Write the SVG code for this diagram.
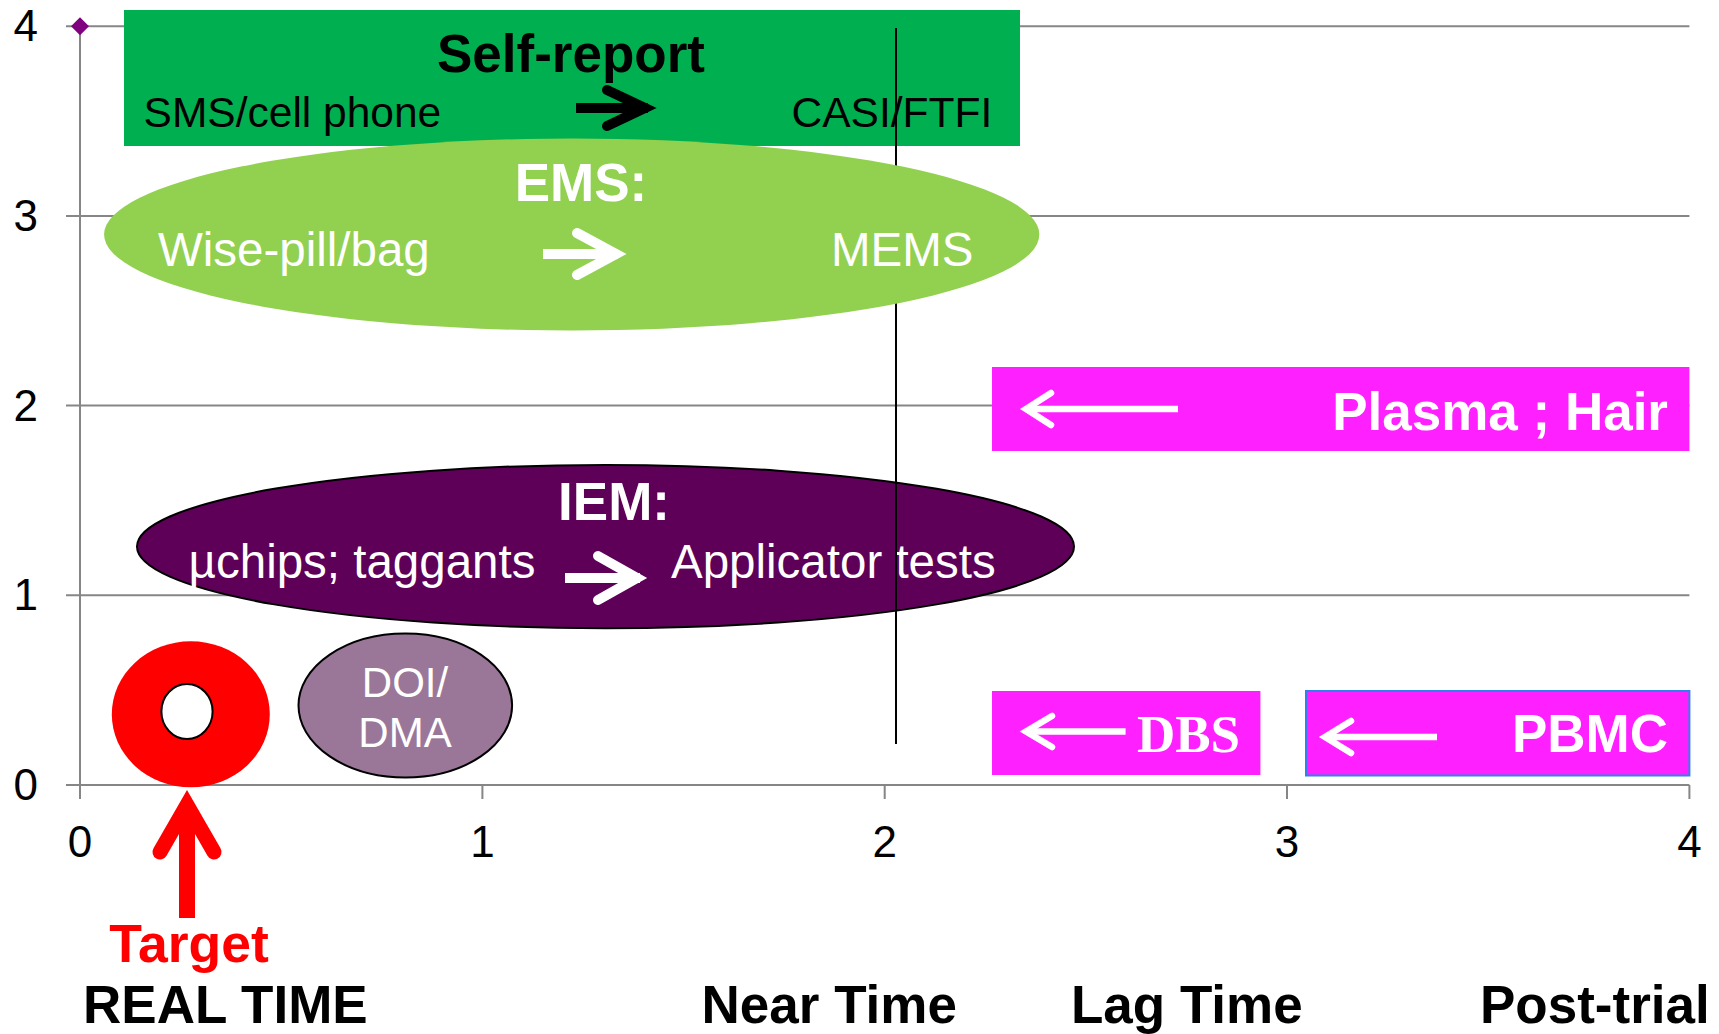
<svg xmlns="http://www.w3.org/2000/svg" width="1719" height="1034" viewBox="0 0 1719 1034">
<style>
.grid{stroke:#868686;stroke-width:2;fill:none}
.tick{font-family:"Liberation Sans",Arial,sans-serif;font-size:44px;fill:#000}
.lab{font-family:"Liberation Sans",Arial,sans-serif;font-size:53px;font-weight:bold;fill:#000}
.reg{font-family:"Liberation Sans",Arial,sans-serif;font-size:42.5px;fill:#000}
.wreg{font-family:"Liberation Sans",Arial,sans-serif;font-size:47.5px;fill:#fff}
.wbold{font-family:"Liberation Sans",Arial,sans-serif;font-size:53px;font-weight:bold;fill:#fff}
.mag{fill:#FF20FF}
.arrW{fill:none;stroke:#fff;stroke-width:10;stroke-linejoin:miter}
.arrT{fill:none;stroke:#fff;stroke-width:6.5;stroke-linejoin:miter}
</style>
<rect width="1719" height="1034" fill="#fff"/>
<g id="axes">
<path class="grid" d="M66,26.3H1689.4M66,216H1689.4M66,405.6H1689.4M66,595.3H1689.4M66,785H1689.4"/>
<path class="grid" d="M80,26.3V799M482.4,785V799M884.7,785V799M1287,785V799M1689.4,785V799"/>
<path d="M80,17.3L89,26.3L80,35.3L71,26.3Z" fill="#800080"/>
<g class="tick" text-anchor="end">
<text x="38" y="41">4</text>
<text x="38" y="231">3</text>
<text x="38" y="421">2</text>
<text x="38" y="610">1</text>
<text x="38" y="800">0</text>
</g>
<g class="tick" text-anchor="middle">
<text x="80" y="857">0</text>
<text x="482.4" y="857">1</text>
<text x="884.7" y="857">2</text>
<text x="1287" y="857">3</text>
<text x="1689.4" y="857">4</text>
</g>
</g>
<g id="self-report">
<rect x="124" y="10" width="896" height="136" fill="#00B050"/>
<text class="lab" x="571" y="72" text-anchor="middle">Self-report</text>
<text class="reg" x="143.6" y="127">SMS/cell phone</text>
<text class="reg" x="791.5" y="127">CASI/FTFI</text>
</g>
<g id="iem">
<ellipse cx="605.5" cy="546.6" rx="468.5" ry="81.7" fill="#5E0058" stroke="#000" stroke-width="2"/>
<text class="wbold" x="614" y="520" text-anchor="middle">IEM:</text>
<text class="wreg" x="188.6" y="578">µchips; taggants</text>
<text class="wreg" x="671" y="578">Applicator tests</text>
</g>
<g id="divider">
<line x1="896" y1="28" x2="896" y2="744" stroke="#000" stroke-width="2"/>
</g>
<g id="ems">
<ellipse cx="571.7" cy="234.5" rx="467.6" ry="96" fill="#92D050"/>
<text class="wbold" x="581" y="201" text-anchor="middle">EMS:</text>
<text class="wreg" x="157.9" y="266">Wise-pill/bag</text>
<text class="wreg" x="831" y="266">MEMS</text>
</g>
<g id="plasma-hair">
<rect class="mag" x="992" y="367" width="697.4" height="84"/>
<text class="wbold" x="1668" y="430" text-anchor="end">Plasma ; Hair</text>
</g>
<g id="dbs">
<rect class="mag" x="992" y="691" width="268.4" height="84"/>
<text x="1240" y="752" text-anchor="end" font-family="'Liberation Serif','Times New Roman',serif" font-size="53" font-weight="bold" fill="#fff">DBS</text>
</g>
<g id="pbmc">
<rect class="mag" x="1306" y="691" width="383.4" height="84.5" stroke="#2F7FF0" stroke-width="2"/>
<text class="wbold" x="1668" y="752" text-anchor="end">PBMC</text>
</g>
<g id="target">
<ellipse cx="190.8" cy="714.3" rx="79" ry="73" fill="#FF0000"/>
<ellipse cx="187" cy="711.5" rx="25.6" ry="27.5" fill="#fff" stroke="#000" stroke-width="2"/>
<text x="189" y="962" text-anchor="middle" font-family="'Liberation Sans',Arial,sans-serif" font-size="53.5" font-weight="bold" fill="#FF0000">Target</text>
</g>
<g id="doi-dma">
<ellipse cx="405.3" cy="705.5" rx="106.8" ry="72" fill="#9A7799" stroke="#000" stroke-width="2"/>
<text x="405" y="696.7" text-anchor="middle" font-family="'Liberation Sans',Arial,sans-serif" font-size="42" fill="#fff">DOI/</text>
<text x="405" y="746.7" text-anchor="middle" font-family="'Liberation Sans',Arial,sans-serif" font-size="42" fill="#fff">DMA</text>
</g>
<g id="time-labels">
<text class="lab" x="83" y="1023">REAL TIME</text>
<text class="lab" x="701.6" y="1023">Near Time</text>
<text class="lab" x="1071" y="1023">Lag Time</text>
<text class="lab" x="1480" y="1023">Post-trial</text>
</g>
<g id="connectors">
<path d="M576,108H648" stroke="#000" stroke-width="10" fill="none"/>
<path d="M607,90L645,108L607,126" stroke="#000" stroke-width="10" fill="none" stroke-linecap="round"/>
<path class="arrW" d="M543,254H618"/>
<path class="arrW" d="M577,233L616,254L577,275" stroke-linecap="round"/>
<path class="arrW" d="M565,578H640"/>
<path class="arrW" d="M598,556L637,578L598,600" stroke-linecap="round"/>
<path class="arrT" d="M1026,409H1178"/>
<path class="arrT" d="M1051,393L1026,409L1051,425" stroke-linecap="round"/>
<path class="arrT" d="M1026,731.5H1125.6"/>
<path class="arrT" d="M1052,716L1026,731.5L1052,747" stroke-linecap="round"/>
<path class="arrT" d="M1325,737H1437"/>
<path class="arrT" d="M1351,721L1325,737L1351,753" stroke-linecap="round"/>
<path d="M187,918V812" stroke="#FF0000" stroke-width="16" fill="none"/>
<path d="M160,852L187,805L214,852" stroke="#FF0000" stroke-width="15" fill="none" stroke-linecap="round"/>
</g>
</svg>
